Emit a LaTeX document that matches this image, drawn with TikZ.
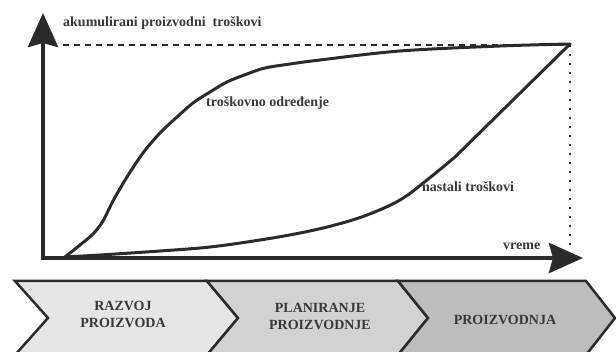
\documentclass[tikz,border=0pt]{standalone}
\usepackage{fontspec}
\setmainfont{Liberation Serif}
\usetikzlibrary{arrows.meta}
\definecolor{ink}{HTML}{2B2B2B}
\definecolor{txt}{HTML}{383838}
\definecolor{chA}{HTML}{E6E6E6}
\definecolor{chB}{HTML}{D2D2D2}
\definecolor{chC}{HTML}{BDBDBD}
\begin{document}
\begin{tikzpicture}[x=1pt,y=-1pt,
  axis/.style={line width=4.5pt, draw=ink, line join=miter,
    {Stealth[length=34pt,width=30pt,inset=4pt]}-{Stealth[length=34pt,width=30pt,inset=4pt]}},
  curve/.style={line width=3pt, draw=ink, line join=round, line cap=round},
  lbl/.style={font=\bfseries\fontsize{14}{16}\selectfont, text=txt, inner sep=0pt, anchor=west},
  chev/.style={draw=ink, line width=2.5pt, line join=miter},
  chtext/.style={font=\bfseries\fontsize{14}{17}\selectfont, text=txt, align=center, inner sep=0pt},
  guide/.style={line width=2pt, draw=ink}]
\useasboundingbox (0,0) rectangle (616,352);
\clip (0,0) rectangle (616,352);
% phase chevrons
\path[chev, fill=chA] (15,281) -- (207,281) -- (238,318) -- (207,355) -- (15,355) -- (48,318) -- cycle;
\path[chev, fill=chB] (207,281) -- (398,281) -- (428,318) -- (398,355) -- (207,355) -- (238,318) -- cycle;
\path[chev, fill=chC] (398,281) -- (586,281) -- (615,318) -- (586,355) -- (398,355) -- (428,318) -- cycle;
\node[chtext] (p1) at (123,314) {RAZVOJ\\PROIZVODA};
\node[chtext] (p2) at (320,316) {PLANIRANJE\\PROIZVODNJE};
\node[chtext] (p3) at (505,320) {PROIZVODNJA};
% guides
\coordinate (dl) at (63,45);
\coordinate (dr) at (570,45);
\coordinate (db) at (570,252);
\draw[guide, dash pattern=on 6pt off 5pt] (dl) -- (dr);
\draw[line width=2.2pt, draw=ink, dash pattern=on 2.5pt off 6.5pt] (dr) -- (db);
% curves
\draw[curve] plot[smooth, tension=0.55] coordinates {(65,257) (80,245) (93,234) (103,221) (113,201) (127,177) (143,153) (160,133) (177,117) (193,103) (210,92) (227,82) (247,74) (265,68) (290,64) (320,60) (400,51) (500,46) (570,44)};
\draw[curve] plot[smooth, tension=0.6] coordinates {(65,257) (100,255) (160,251) (210,247) (260,240) (300,233) (335,225) (367,215) (400,200) (427,180) (455,157)} -- (570,44);
% axes
\coordinate (o) at (43,258);
\coordinate (ytip) at (43,13);
\coordinate (xtip) at (583,258);
\draw[axis] (ytip) -- (o) -- (xtip);
% labels
\node[lbl] (ylab) at (63,23) {akumulirani proizvodni\ \ troškovi};
\node[lbl] (lab1) at (206,103) {troškovno određenje};
\node[lbl] (lab2) at (422,187) {nastali troškovi};
\node[lbl] (xlab) at (503,246) {vreme};
\end{tikzpicture}
\end{document}
